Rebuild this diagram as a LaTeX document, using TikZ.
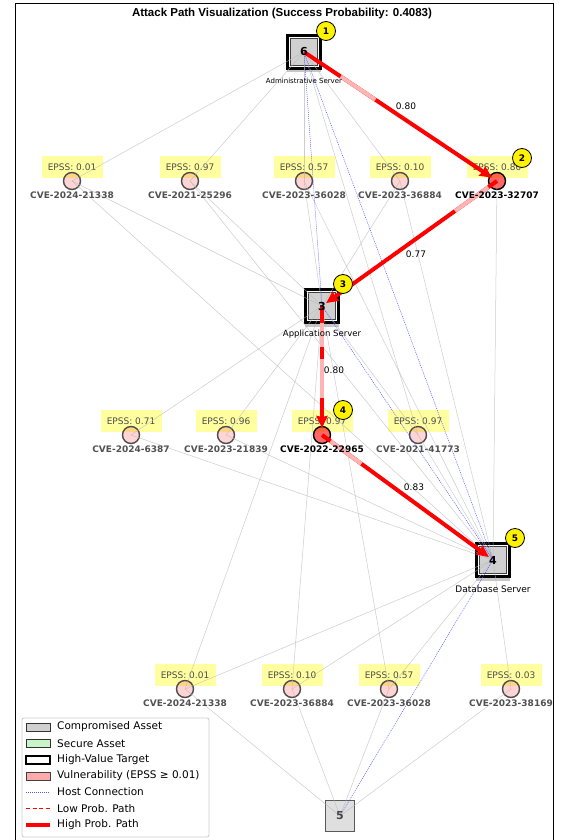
\documentclass[tikz,border=0pt]{standalone}
\usepackage{fontspec}
\setmainfont{DejaVu Sans}
\newfontfamily\titlefont{Liberation Sans}
\usetikzlibrary{arrows.meta,calc}
\definecolor{hostgray}{HTML}{D0D0D0}
\definecolor{epssyellow}{HTML}{FFFFA0}
\definecolor{hostblue}{HTML}{5555FF}
\definecolor{pinkred}{HTML}{FFB4B4}
\definecolor{legpink}{HTML}{FFAAAA}
\definecolor{leggreen}{HTML}{C8F5C8}
\tikzset{
  hostin/.style={rectangle, minimum size=27pt, inner sep=0pt, fill=hostgray, draw=black!75, line width=1pt},
  hvframe/.style={rectangle, minimum size=33pt, inner sep=0pt, draw=black, line width=3pt},
  hostfive/.style={rectangle, minimum width=29pt, minimum height=31pt, inner sep=0pt, fill=gray!25, draw=black!65, line width=1.8pt},
  hshadow/.style={fill=black!22},
  epssbox/.style={rectangle, fill=epssyellow, minimum width=61pt, minimum height=22pt, inner sep=0pt, text=black!70, font=\fontsize{9}{9}\selectfont},
  vuln/.style={circle, minimum size=17pt, inner sep=0pt, fill=red, fill opacity=0.17, draw=black!70, draw opacity=1, line width=1.4pt},
  vulnhit/.style={circle, minimum size=17pt, inner sep=0pt, fill=red, fill opacity=0.6, draw=black, draw opacity=1, line width=1.4pt},
  cvelab/.style={font=\bfseries\fontsize{9}{9}\selectfont, text=black!68, inner sep=0pt},
  cvehit/.style={font=\bfseries\fontsize{9}{9}\selectfont, text=black, inner sep=0pt},
  hostnum/.style={font=\bfseries\fontsize{11}{11}\selectfont, inner sep=0pt},
  hostlab/.style={font=\fontsize{8.5}{8.5}\selectfont, inner sep=0pt},
  badge/.style={circle, fill=yellow, draw=black, line width=0.8pt, minimum size=19pt, inner sep=0pt, font=\bfseries\fontsize{9}{9}\selectfont},
  gedge/.style={draw=black!28, line width=0.5pt, opacity=0.7},
  bedge/.style={draw=hostblue, line width=0.5pt, dash pattern=on 1pt off 1pt},
  hpath/.style={draw=red, line width=4pt, -{Stealth[length=12pt,width=11pt,inset=1pt]}},
  pinkseg/.style={draw=pinkred, line width=4pt},
  elab/.style={font=\fontsize{9}{9}\selectfont, inner sep=1pt},
  legtext/.style={font=\fontsize{10.5}{10.5}\selectfont, anchor=west, inner sep=0pt},
  legsw/.style={rectangle, minimum width=24pt, minimum height=8pt, inner sep=0pt}
}
\begin{document}
\begin{tikzpicture}[x=1pt,y=-1pt]
\useasboundingbox (0,0) rectangle (566,840);
\fill[white] (0,0) rectangle (566,840);
\draw[black, line width=0.8pt] (15,841) -- (15,3) -- (553,3) -- (553,841);
\node[font=\titlefont\bfseries\fontsize{11.5}{12}\selectfont, inner sep=0pt] (title) at (282,14) {Attack Path Visualization (Success Probability: 0.4083)};

% shadows of high-value hosts
\fill[hshadow] (287,69) rectangle (321,72.5);
\fill[hshadow] (305,323) rectangle (339,326.5);
\fill[hshadow] (476,577) rectangle (510,580.5);

% hosts
\node[hostin] (h6) at (304,52) {};
\node[hvframe] (h6f) at (h6) {};
\node[hostin] (h3) at (322,306) {};
\node[hvframe] (h3f) at (h3) {};
\node[hostin] (h4) at (493,560) {};
\node[hvframe] (h4f) at (h4) {};
\node[hostfive] (h5) at (340,816) {};

% EPSS boxes
\node[epssbox] (e1a) at (72,167) {EPSS: 0.01};
\node[epssbox] (e1b) at (190,167) {EPSS: 0.97};
\node[epssbox] (e1c) at (304,167) {EPSS: 0.57};
\node[epssbox] (e1d) at (400,167) {EPSS: 0.10};
\node[epssbox] (e1e) at (497,167) {EPSS: 0.80};
\node[epssbox] (e2a) at (131,421) {EPSS: 0.71};
\node[epssbox] (e2b) at (226,421) {EPSS: 0.96};
\node[epssbox] (e2c) at (322,421) {EPSS: 0.97};
\node[epssbox] (e2d) at (418,421) {EPSS: 0.97};
\node[epssbox] (e3a) at (185,675) {EPSS: 0.01};
\node[epssbox] (e3b) at (292,675) {EPSS: 0.10};
\node[epssbox] (e3c) at (389,675) {EPSS: 0.57};
\node[epssbox] (e3d) at (511,675) {EPSS: 0.03};

% vulnerability circles
\node[vuln] (v1a) at (72,181) {};
\node[vuln] (v1b) at (190,181) {};
\node[vuln] (v1c) at (304,181) {};
\node[vuln] (v1d) at (400,181) {};
\node[vulnhit] (v1e) at (497,181) {};
\node[vuln] (v2a) at (131,435) {};
\node[vuln] (v2b) at (226,435) {};
\node[vulnhit] (v2c) at (322,435) {};
\node[vuln] (v2d) at (418,435) {};
\node[vuln] (v3a) at (185,689) {};
\node[vuln] (v3b) at (292,689) {};
\node[vuln] (v3c) at (389,689) {};
\node[vuln] (v3d) at (511,689) {};

% gray connections
\foreach \a/\b in {h6/v1a, h6/v1b, h6/v1c, h6/v1d,
                   v1a/h3, v1b/h3, v1c/h3, v1d/h3,
                   v1a/h4, v1b/h4, v1c/h4, v1d/h4, v1e/h4,
                   h6/v2d, h3/v2a, h3/v2b, h3/v2d,
                   v2a/h4, v2b/h4, v2d/h4,
                   h3/v3a, h3/v3b, h3/v3c,
                   h4/v3a, h4/v3b, h4/v3c, h4/v3d,
                   v3a/h5, v3b/h5, v3c/h5, v3d/h5}
  \draw[gedge] (\a.center) -- (\b.center);

% host connections
\foreach \a/\b in {h6/h3, h6/h4, h3/h4, h4/h5}
  \draw[bedge] (\a.center) -- (\b.center);

% high probability path
\draw[hpath] (h6.center) -- ($(v1e)!6pt!(h6)$);
\draw[pinkseg] ($(h6)!0.19!(v1e)$) -- ($(h6)!0.37!(v1e)$);
\draw[hpath] (v1e.center) -- ($(h3)!5pt!(v1e)$);
\draw[pinkseg] ($(v1e)!0.05!(h3)$) -- ($(v1e)!0.24!(h3)$);
\draw[hpath] (h3.center) -- ($(v2c)!7pt!(h3)$);
\draw[pinkseg] ($(h3)!0.13!(v2c)$) -- ($(h3)!0.32!(v2c)$);
\draw[pinkseg] ($(h3)!0.41!(v2c)$) -- ($(h3)!0.71!(v2c)$);
\draw[hpath] (v2c.center) -- ($(h4)!5pt!(v2c)$);
\draw[pinkseg] ($(v2c)!0.05!(h4)$) -- ($(v2c)!0.23!(h4)$);

% edge labels
\node[elab] (p1) at (406,106) {0.80};
\node[elab] (p2) at (416,254) {0.77};
\node[elab] (p3) at (334,370) {0.80};
\node[elab] (p4) at (414,487) {0.83};

% host texts
\node[hostnum] (n6) at (h6) {6};
\node[hostnum] (n3) at (h3) {3};
\node[hostnum] (n4) at (h4) {4};
\node[hostnum, text=black!72] (n5) at (h5) {5};
\node[hostlab, font=\fontsize{7}{7}\selectfont] (l6) at (304,81) {Administrative Server};
\node[hostlab] (l3) at (322,334) {Application Server};
\node[hostlab, font=\fontsize{9}{9}\selectfont] (l4) at (493,589) {Database Server};

% CVE labels
\node[cvelab] (c1a) at (72,195) {CVE-2024-21338};
\node[cvelab] (c1b) at (190,195) {CVE-2021-25296};
\node[cvelab] (c1c) at (304,195) {CVE-2023-36028};
\node[cvelab] (c1d) at (400,195) {CVE-2023-36884};
\node[cvehit] (c1e) at (497,195) {CVE-2023-32707};
\node[cvelab] (c2a) at (131,449) {CVE-2024-6387};
\node[cvelab] (c2b) at (226,449) {CVE-2023-21839};
\node[cvehit] (c2c) at (322,449) {CVE-2022-22965};
\node[cvelab] (c2d) at (418,449) {CVE-2021-41773};
\node[cvelab] (c3a) at (185,703) {CVE-2024-21338};
\node[cvelab] (c3b) at (292,703) {CVE-2023-36884};
\node[cvelab] (c3c) at (389,703) {CVE-2023-36028};
\node[cvelab] (c3d) at (511,703) {CVE-2023-38169};

% step badges
\node[badge] (b1) at (326,31) {1};
\node[badge] (b2) at (522,158) {2};
\node[badge] (b3) at (343,284) {3};
\node[badge] (b4) at (343,410) {4};
\node[badge] (b5) at (515,538) {5};

% legend
\draw[draw=black!20, fill=white, fill opacity=0.85, rounded corners=2pt, line width=0.8pt] (22,718) rectangle (209,837);
\node[legsw, fill=hostgray, draw=black!80, line width=1pt] (s1) at (38,727) {};
\node[legtext] (t1) at (57,727) {Compromised Asset};
\node[legsw, fill=leggreen, draw=black!80, line width=1pt] (s2) at (38,743.5) {};
\node[legtext] (t2) at (57,743.5) {Secure Asset};
\node[legsw, fill=white, draw=black, line width=2.5pt] (s3) at (38,760) {};
\node[legtext] (t3) at (57,760) {High-Value Target};
\node[legsw, fill=legpink, draw=black!75, line width=1pt] (s4) at (38,776) {};
\node[legtext] (t4) at (57,776) {Vulnerability (EPSS ≥ 0.01)};
\coordinate (s5a) at (26,792); \coordinate (s5b) at (50,792);
\draw[bedge] (s5a) -- (s5b);
\node[legtext] (t5) at (57,792) {Host Connection};
\coordinate (s6a) at (26,808.5); \coordinate (s6b) at (50,808.5);
\draw[draw=red, line width=1pt, dash pattern=on 4pt off 2.5pt] (s6a) -- (s6b);
\node[legtext] (t6) at (57,808.5) {Low Prob. Path};
\coordinate (s7a) at (26,825); \coordinate (s7b) at (50,825);
\draw[draw=red, line width=4pt] (s7a) -- (s7b);
\node[legtext] (t7) at (57,825) {High Prob. Path};
\end{tikzpicture}
\end{document}
